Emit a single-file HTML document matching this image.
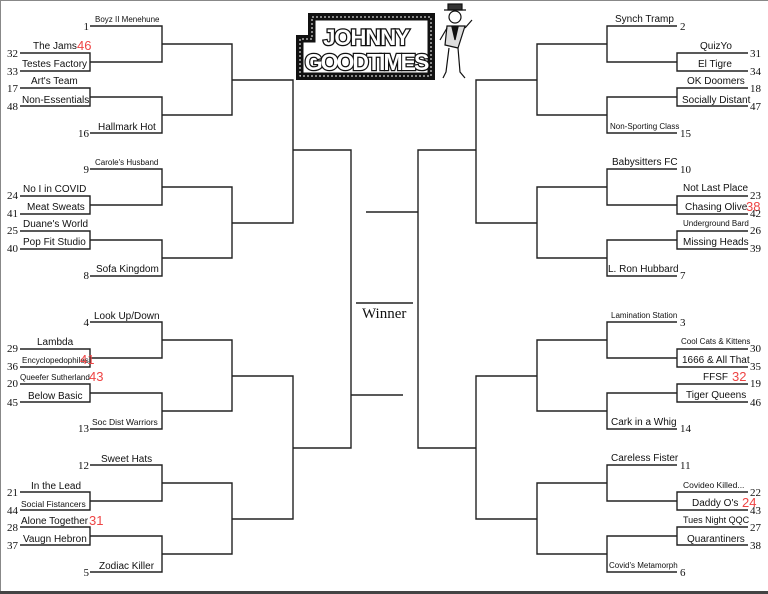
<!DOCTYPE html>
<html><head><meta charset="utf-8"><style>
html,body{margin:0;padding:0;background:#fff;}
svg{display:block;}
.s{font-family:"Liberation Sans",sans-serif;font-size:10px;fill:#111;}
.m{font-family:"Liberation Sans",sans-serif;font-size:8px;fill:#111;}
.n{font-family:"Liberation Serif",serif;font-size:11px;fill:#111;}
.r{font-family:"Liberation Sans",sans-serif;font-size:13px;fill:#ee4444;}
</style></head><body>
<svg width="768" height="594" viewBox="0 0 768 594" xmlns="http://www.w3.org/2000/svg">
<rect x="0" y="0" width="768" height="594" fill="#fff"/>
<path d="M0.5 594V0.5H768" fill="none" stroke="#888" stroke-width="1"/>
<rect x="0" y="591" width="768" height="3" fill="#444"/>
<g fill="none" stroke="#222" stroke-width="1.4">
<!-- left groups -->
<g id="lg">
<path d="M90 26H162V62H90M20 53H90V71H20M20 88H90V106H20M90 97H162V133H90M162 44H232V115H162"/>
</g>
<use href="#lg" y="143"/><use href="#lg" y="296"/><use href="#lg" y="439"/>
<path d="M232 80H293V223H232M232 376H293V519H232M293 150H351V448H293M351 395H403"/>
<!-- right groups -->
<g id="rg">
<path d="M677 26H607V62H677M748 53H677V71H748M748 88H677V106H748M677 97H607V133H677M607 44H537V115H607"/>
</g>
<use href="#rg" y="143"/><use href="#rg" y="296"/><use href="#rg" y="439"/>
<path d="M537 80H476V223H537M537 376H476V519H537M476 150H418V448H476M418 212H366"/>
<path d="M356 303H413"/>
</g>
<text x="362" y="318" style="font-family:'Liberation Serif',serif;font-size:15px;fill:#111">Winner</text>

<!-- logo -->
<path d="M308 13H435V80H296V35H308Z" fill="#111"/>
<path d="M312 17H431V76H300V39H312Z" fill="none" stroke="#fff" stroke-width="1" stroke-dasharray="2 2"/>
<path d="M315 20H428V73H303V42H315Z" fill="#fff" stroke="#111" stroke-width="1"/>
<text x="366" y="45" text-anchor="middle" style="font-family:'Liberation Sans',sans-serif;font-weight:bold;font-size:22px;fill:#fff;stroke:#111;stroke-width:2.5;paint-order:stroke;letter-spacing:-1px">JOHNNY</text>
<text x="366" y="70" text-anchor="middle" style="font-family:'Liberation Sans',sans-serif;font-weight:bold;font-size:23px;fill:#fff;stroke:#111;stroke-width:2.5;paint-order:stroke;letter-spacing:-2px">GOODTIMES</text>
<g stroke="#111" fill="none" stroke-width="1.2">
<rect x="448" y="4" width="14" height="6" fill="#333"/>
<path d="M444 10H466"/>
<circle cx="455" cy="17" r="6"/>
<path d="M447 26L445 45L458 48L465 26Z" fill="#ddd"/>
<path d="M452 27L455 40L458 27Z" fill="#111"/>
<path d="M447 28L440 40M465 28L472 20"/>
<path d="M449 48L446 72L443 78M458 48L460 72L465 78"/>
</g>

<!-- left labels -->
<g>
<text class="m" x="95" y="22">Boyz II Menehune</text>
<text class="s" x="33" y="49">The Jams</text><text class="r" x="77" y="50">46</text>
<text class="s" x="22" y="67">Testes Factory</text>
<text class="s" x="31" y="84">Art's Team</text>
<text class="s" x="22" y="103">Non-Essentials</text>
<text class="s" x="98" y="130">Hallmark Hot</text>

<text class="m" x="95" y="165">Carole's Husband</text>
<text class="s" x="23" y="192">No I in COVID</text>
<text class="s" x="27" y="210">Meat Sweats</text>
<text class="s" x="23" y="227">Duane's World</text>
<text class="s" x="23" y="245">Pop Fit Studio</text>
<text class="s" x="96" y="272">Sofa Kingdom</text>

<text class="s" x="94" y="319">Look Up/Down</text>
<text class="s" x="37" y="345">Lambda</text>
<text class="m" x="22" y="363">Encyclopedophiles</text><text class="r" x="80" y="364">41</text>
<text class="m" x="20" y="380">Queefer Sutherland</text><text class="r" x="89" y="381">43</text>
<text class="s" x="28" y="399">Below Basic</text>
<text class="m" x="92" y="425" style="font-size:8.5px">Soc Dist Warriors</text>

<text class="s" x="101" y="462">Sweet Hats</text>
<text class="s" x="31" y="489">In the Lead</text>
<text class="m" x="21" y="507" style="font-size:8.5px">Social Fistancers</text>
<text class="s" x="21" y="524">Alone Together</text><text class="r" x="89" y="525">31</text>
<text class="s" x="23" y="542">Vaugn Hebron</text>
<text class="s" x="99" y="569">Zodiac Killer</text>
</g>
<!-- left seeds -->
<g class="n" text-anchor="end">
<text x="89" y="30">1</text><text x="18" y="57">32</text><text x="18" y="75">33</text><text x="18" y="92">17</text><text x="18" y="110">48</text><text x="89" y="137">16</text>
<text x="89" y="173">9</text><text x="18" y="199">24</text><text x="18" y="217">41</text><text x="18" y="234">25</text><text x="18" y="252">40</text><text x="89" y="279">8</text>
<text x="89" y="326">4</text><text x="18" y="352">29</text><text x="18" y="370">36</text><text x="18" y="387">20</text><text x="18" y="406">45</text><text x="89" y="432">13</text>
<text x="89" y="469">12</text><text x="18" y="496">21</text><text x="18" y="514">44</text><text x="18" y="531">28</text><text x="18" y="549">37</text><text x="89" y="576">5</text>
</g>

<!-- right labels -->
<g>
<text class="s" x="615" y="22">Synch Tramp</text>
<text class="s" x="700" y="49">QuizYo</text>
<text class="s" x="698" y="67">El Tigre</text>
<text class="s" x="687" y="84">OK Doomers</text>
<text class="s" x="682" y="103">Socially Distant</text>
<text class="m" x="610" y="129">Non-Sporting Class</text>

<text class="s" x="612" y="165">Babysitters FC</text>
<text class="s" x="683" y="191">Not Last Place</text>
<text class="s" x="685" y="210">Chasing Olive</text><text class="r" x="746" y="211">38</text>
<text class="m" x="683" y="226">Underground Bard</text>
<text class="s" x="683" y="245">Missing Heads</text>
<text class="s" x="608" y="272">L. Ron Hubbard</text>

<text class="m" x="611" y="318">Lamination Station</text>
<text class="m" x="681" y="344">Cool Cats &amp; Kittens</text>
<text class="s" x="682" y="363">1666 &amp; All That</text>
<text class="s" x="703" y="380">FFSF</text><text class="r" x="732" y="381">32</text>
<text class="s" x="686" y="398">Tiger Queens</text>
<text class="s" x="611" y="425">Cark in a Whig</text>

<text class="s" x="611" y="461">Careless Fister</text>
<text class="m" x="683" y="488" style="font-size:8.5px">Covideo Killed...</text>
<text class="s" x="692" y="506">Daddy O's</text><text class="r" x="742" y="507">24</text>
<text class="m" x="683" y="523" style="font-size:9px">Tues Night QQC</text>
<text class="s" x="687" y="542">Quarantiners</text>
<text class="m" x="609" y="568">Covid's Metamorph</text>
</g>
<!-- right seeds -->
<g class="n">
<text x="680" y="30">2</text><text x="750" y="57">31</text><text x="750" y="75">34</text><text x="750" y="92">18</text><text x="750" y="110">47</text><text x="680" y="137">15</text>
<text x="680" y="173">10</text><text x="750" y="199">23</text><text x="750" y="217">42</text><text x="750" y="234">26</text><text x="750" y="252">39</text><text x="680" y="279">7</text>
<text x="680" y="326">3</text><text x="750" y="352">30</text><text x="750" y="370">35</text><text x="750" y="387">19</text><text x="750" y="406">46</text><text x="680" y="432">14</text>
<text x="680" y="469">11</text><text x="750" y="496">22</text><text x="750" y="514">43</text><text x="750" y="531">27</text><text x="750" y="549">38</text><text x="680" y="576">6</text>
</g>
</svg>
</body></html>
